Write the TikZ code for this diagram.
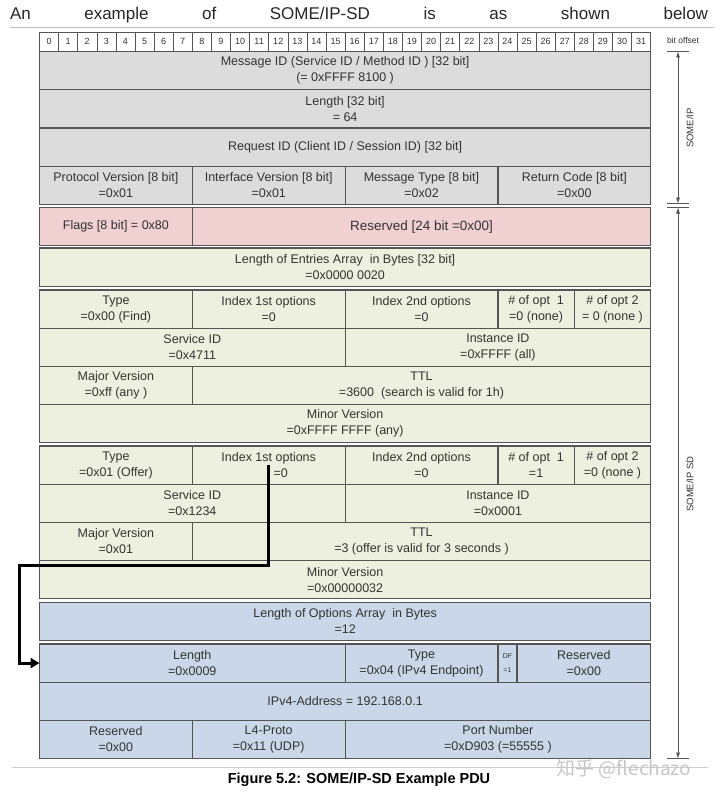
\documentclass[tikz,border=0pt]{standalone}
\usepackage{fontspec}
\setmainfont{Liberation Sans}
\newfontfamily\cjkfont{Noto Sans CJK SC}
\usepackage{xcolor}
\usetikzlibrary{positioning, arrows.meta}

\definecolor{hdrgray}{HTML}{DCDCDC}
\definecolor{flagpink}{HTML}{F0D0D0}
\definecolor{entgreen}{HTML}{EEF0DF}
\definecolor{optblue}{HTML}{C9D7E8}
\definecolor{rule}{HTML}{555555}
\definecolor{ink}{HTML}{333333}

\newcommand{\cellfont}{\fontsize{12.5}{16}\selectfont}

\begin{document}
\begin{tikzpicture}[
    x=1pt, y=-1pt,
    fld/.style={rectangle, draw=rule, line width=1.2pt, fill=#1, minimum height=38.2pt, outer sep=0pt, inner sep=1pt, font=\cellfont, text=ink, align=center, anchor=north west},
    fld/.default=hdrgray,
    bitcell/.style={rectangle, draw=rule, line width=0.6pt, fill=white, minimum width=19.1pt, minimum height=19.5pt, outer sep=0pt, inner sep=0pt, font=\fontsize{9}{10}\selectfont, text=ink, anchor=north west},
    side/.style={font=\fontsize{9.5}{10}\selectfont, text=ink},
    span/.style={{Latex[length=6pt, width=4pt]}-{Latex[length=6pt, width=4pt]}, line width=0.6pt, draw=rule},
    tick/.style={line width=0.6pt, draw=rule},
    jump/.style={-{Triangle[length=9pt, width=10pt]}, line width=2.8pt},
]
\useasboundingbox (0,0) rectangle (720,797);

% Intro line
\node[text=black!85, font=\fontsize{17}{20}\selectfont] (intro) at (359,15) {\makebox[698pt]{An\hfill example\hfill of\hfill SOME/IP-SD\hfill is\hfill as\hfill shown\hfill below}};
\draw[black!25, line width=0.8pt] (10,27.5) -- (714,27.5);

% Bit offsets
\foreach \i in {0,...,31}
    \node[bitcell] (bit\i) at ({39.5+\i*19.1}, 32) {\i};
\node[side, font=\fontsize{8.5}{10}\selectfont] (offs) at (683,40) {bit offset};

% SOME/IP header
\node[fld, minimum width=611.2pt] (msgid) at (39.5,51.5) {Message ID (Service ID / Method ID ) [32 bit]\\(= 0xFFFF 8100 )};
\node[fld, minimum width=611.2pt] (len) at (39.5,89.7) {Length [32 bit]\\= 64};
\node[fld, minimum width=611.2pt] (reqid) at (39.5,127.9) {Request ID (Client ID / Session ID) [32 bit]};
\node[fld, minimum width=152.8pt] (proto) at (39.5,166.1) {Protocol Version [8 bit]\\=0x01};
\node[fld, minimum width=152.8pt, right=0pt of proto] (iface) {Interface Version [8 bit]\\=0x01};
\node[fld, minimum width=152.8pt, right=0pt of iface] (mtype) {Message Type [8 bit]\\=0x02};
\node[fld, minimum width=152.8pt, right=0pt of mtype] (rcode) {Return Code [8 bit]\\=0x00};

% SD flags
\node[fld=flagpink, minimum width=152.8pt] (flags) at (39.5,207.5) {Flags [8 bit] = 0x80};
\node[fld=flagpink, minimum width=458.4pt, right=0pt of flags, font=\fontsize{13.5}{16}\selectfont] (resv) {Reserved [24 bit =0x00]};
\node[fld=entgreen, minimum width=611.2pt] (lenent) at (39.5,248) {Length of Entries Array \ in Bytes [32 bit]\\=0x0000 0020};

% Find entry
\node[fld=entgreen, minimum width=152.8pt] (typea) at (39.5,290) {Type\\=0x00 (Find)};
\node[fld=entgreen, minimum width=152.8pt, right=0pt of typea] (idxa1) {Index 1st options\\=0};
\node[fld=entgreen, minimum width=152.8pt, right=0pt of idxa1] (idxa2) {Index 2nd options\\=0};
\node[fld=entgreen, minimum width=76.4pt, right=0pt of idxa2] (nopta1) {\# of opt \ 1\\=0 (none)};
\node[fld=entgreen, minimum width=76.4pt, right=0pt of nopta1] (nopta2) {\# of opt 2\\= 0 (none )};
\node[fld=entgreen, minimum width=305.6pt] (srva) at (39.5,328.2) {Service ID\\=0x4711};
\node[fld=entgreen, minimum width=305.6pt, right=0pt of srva] (insta) {Instance ID\\=0xFFFF (all)};
\node[fld=entgreen, minimum width=152.8pt] (majora) at (39.5,366.4) {Major Version\\=0xff (any )};
\node[fld=entgreen, minimum width=458.4pt, right=0pt of majora] (ttla) {TTL\\=3600 \ (search is valid for 1h)};
\node[fld=entgreen, minimum width=611.2pt] (minora) at (39.5,404.6) {Minor Version\\=0xFFFF FFFF (any)};

% Offer entry
\node[fld=entgreen, minimum width=152.8pt] (typeb) at (39.5,446) {Type\\=0x01 (Offer)};
\node[fld=entgreen, minimum width=152.8pt, right=0pt of typeb] (idxb1) {Index 1st options\\\hspace*{24pt}=0};
\node[fld=entgreen, minimum width=152.8pt, right=0pt of idxb1] (idxb2) {Index 2nd options\\=0};
\node[fld=entgreen, minimum width=76.4pt, right=0pt of idxb2] (noptb1) {\# of opt \ 1\\=1};
\node[fld=entgreen, minimum width=76.4pt, right=0pt of noptb1] (noptb2) {\# of opt 2\\=0 (none )};
\node[fld=entgreen, minimum width=305.6pt] (srvb) at (39.5,484.2) {Service ID\\=0x1234};
\node[fld=entgreen, minimum width=305.6pt, right=0pt of srvb] (instb) {Instance ID\\=0x0001};
\node[fld=entgreen, minimum width=152.8pt] (majorb) at (39.5,522.4) {Major Version\\=0x01};
\node[fld=entgreen, minimum width=458.4pt, right=0pt of majorb] (ttlb) {TTL\\=3 (offer is valid for 3 seconds )};
\node[fld=entgreen, minimum width=611.2pt] (minorb) at (39.5,560.6) {Minor Version\\=0x00000032};

% Options
\node[fld=optblue, minimum width=611.2pt] (lenopt) at (39.5,602.3) {Length of Options Array \ in Bytes\\=12};
\node[fld=optblue, minimum width=305.6pt] (olen) at (39.5,644) {Length\\=0x0009};
\node[fld=optblue, minimum width=152.8pt, right=0pt of olen] (otype) {Type\\=0x04 (IPv4 Endpoint)};
\node[fld=optblue, minimum width=19.1pt, right=0pt of otype, font=\fontsize{7}{14}\selectfont] (odf) {DF\\=1};
\node[fld=optblue, minimum width=133.7pt, right=0pt of odf] (oresv) {Reserved\\=0x00};
\node[fld=optblue, minimum width=611.2pt] (oaddr) at (39.5,682.2) {IPv4-Address = 192.168.0.1};
\node[fld=optblue, minimum width=152.8pt] (oresv2) at (39.5,720.4) {Reserved\\=0x00};
\node[fld=optblue, minimum width=152.8pt, right=0pt of oresv2] (oproto) {L4-Proto\\=0x11 (UDP)};
\node[fld=optblue, minimum width=305.6pt, right=0pt of oproto] (oport) {Port Number\\=0xD903 (=55555 )};

% Option reference
\coordinate (loop) at (19.5,565.7);
\draw[jump] (idxb1.center) |- (loop) |- (olen.west);

% Layer spans
\coordinate (ipTop) at (678,51.5);
\coordinate (ipBot) at (678,203.5);
\coordinate (sdTop) at (678,207.5);
\coordinate (sdBot) at (678,758.6);
\draw[span] (ipTop) -- (ipBot);
\draw[span] (sdTop) -- (sdBot);
\foreach \c in {ipTop, ipBot, sdTop, sdBot}
    \draw[tick] ([xshift=-11pt]\c) -- ([xshift=11pt]\c);
\node[side, rotate=90] (iplbl) at (690,128) {SOME/IP};
\node[side, rotate=90] (sdlbl) at (690,484) {SOME/IP SD};

% Caption
\draw[black!20, line width=0.8pt] (12,767) -- (708,767);
\node[font=\fontsize{14.5}{16}\selectfont\bfseries] (cap) at (359,780) {Figure 5.2: SOME/IP-SD Example PDU};
\node[text=gray!45, font=\cjkfont\fontsize{19}{20}\selectfont] (mark) at (624,769) {知乎 @flechazo};

\end{tikzpicture}
\end{document}
